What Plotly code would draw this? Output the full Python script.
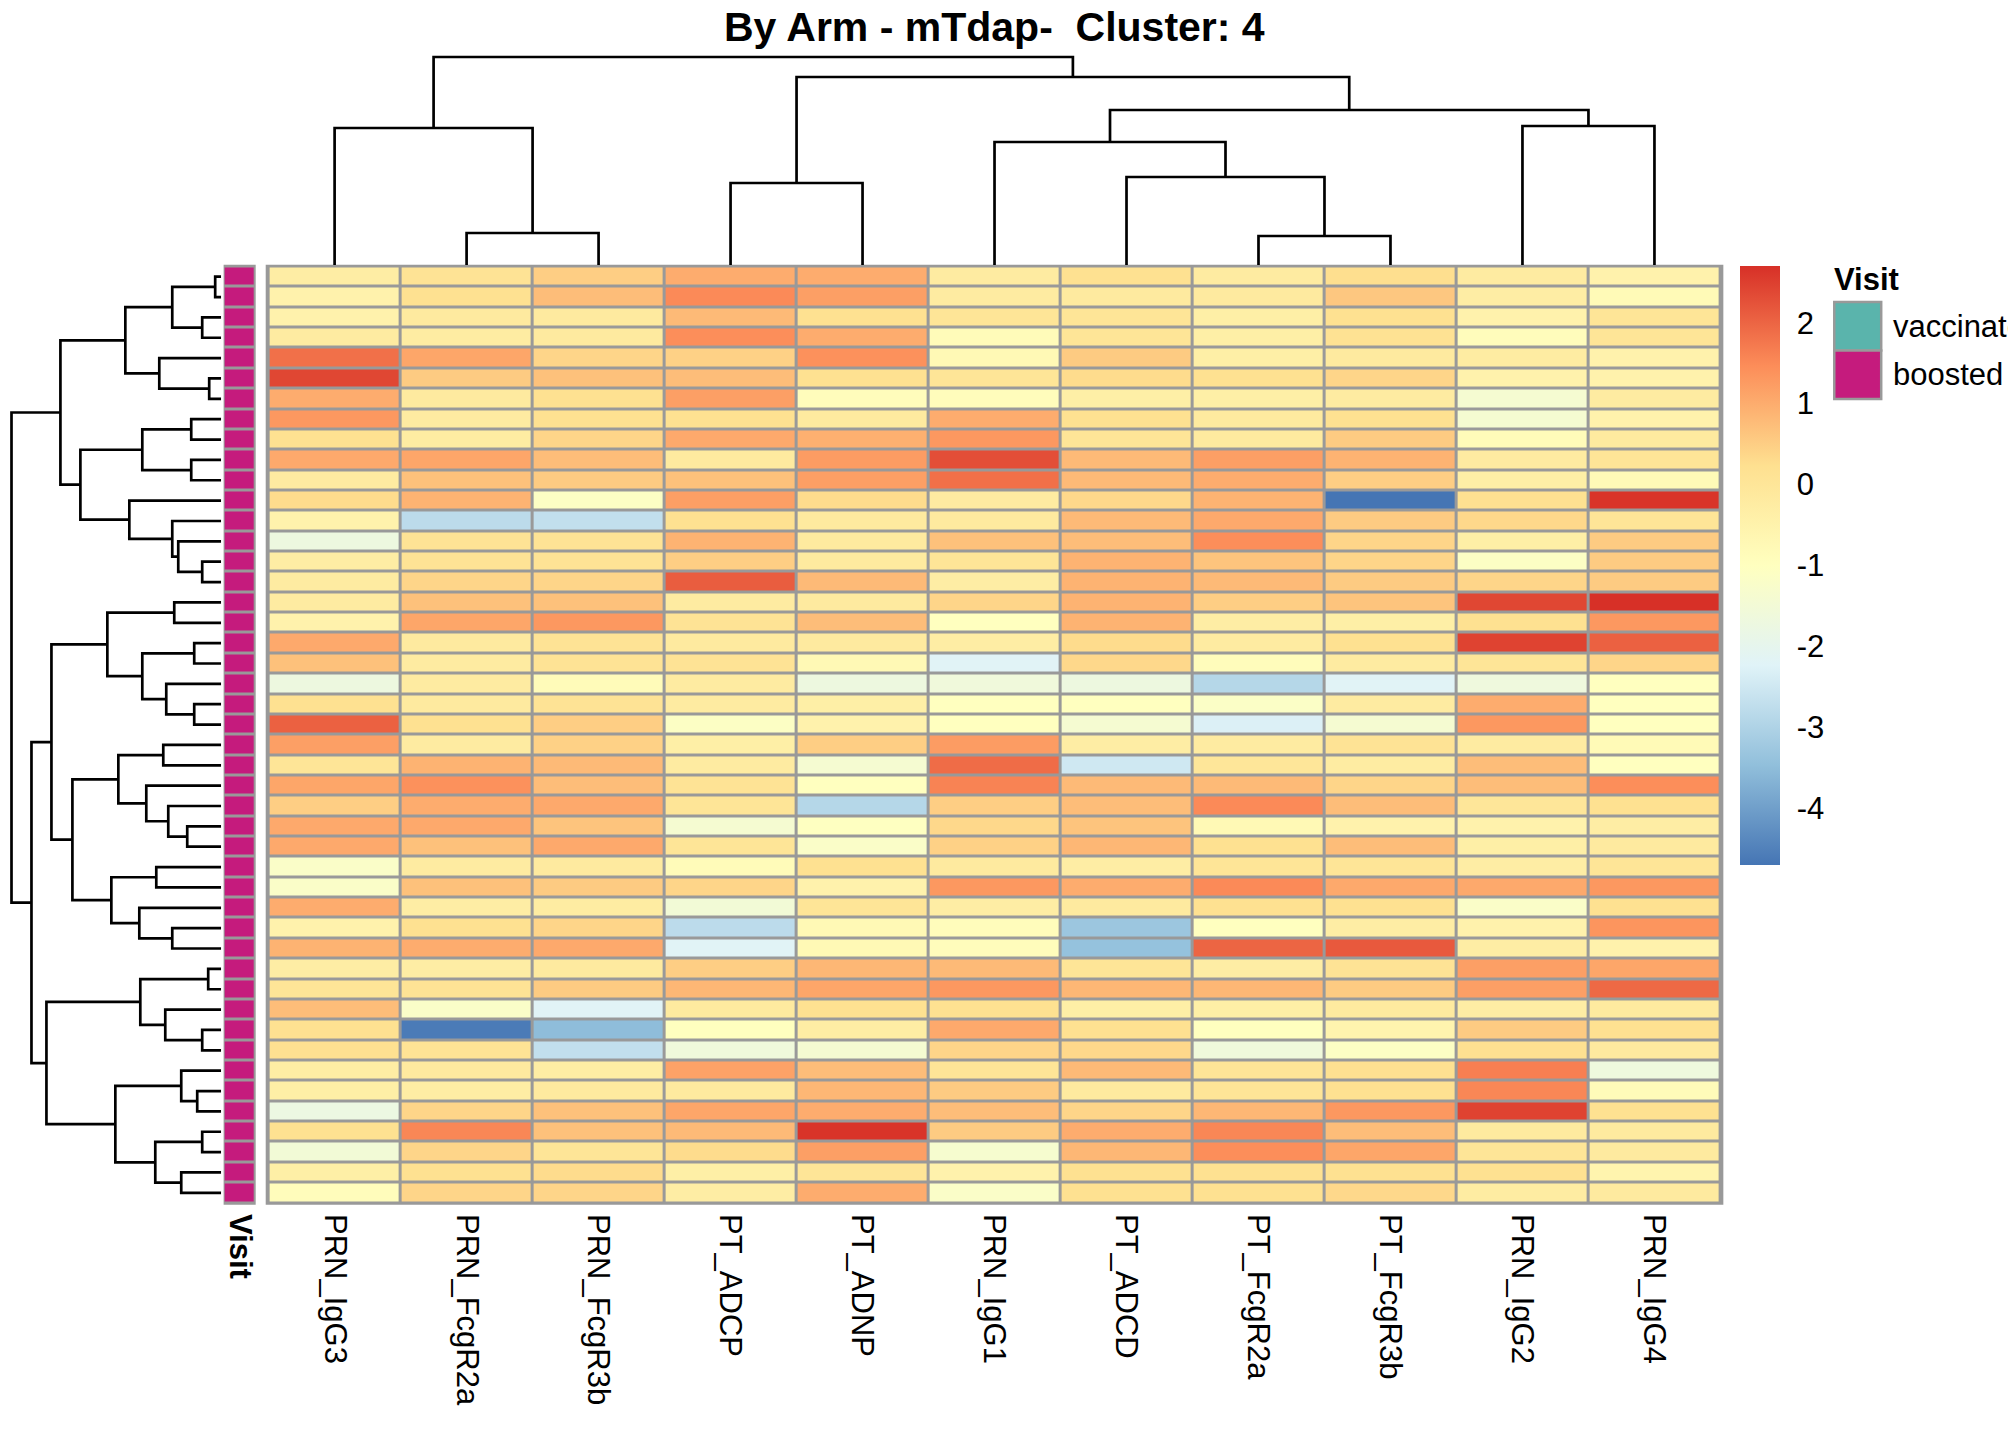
import plotly.graph_objects as go

# columns of the heatmap, in dendrogram order
columns = ["PRN_IgG3", "PRN_FcgR2a", "PRN_FcgR3b", "PT_ADCP", "PT_ADNP", "PRN_IgG1",
           "PT_ADCD", "PT_FcgR2a", "PT_FcgR3b", "PRN_IgG2", "PRN_IgG4"]

# scaled values per column, rows top to bottom (46 samples)
prn_igg3 = [-0.3, -0.5, -0.5, -0.2, 1.85, 2.4, 1.0, 1.3, 0.2, 1.05, -0.2, 0.3, -0.5, -1.7, -0.3, -0.2,
            -0.2, -0.5, 1.05, 0.7, -1.7, 0.2, 2.05, 1.2, 0.05, 1.1, 0.5, 1.05, 1.05, -1.2, -1.2, 1.0,
            -0.5, 0.9, -0.3, 0.05, 0.75, 0.2, 0.2, -0.3, -0.35, -1.75, 0.2, -1.5, -0.35, -0.9]
prn_fcgr2a = [0.1, 0.2, -0.15, -0.25, 1.1, 0.55, -0.15, -0.2, -0.25, 1.1, 0.7, 0.9, -2.8, 0.1, 0.1, 0.4,
              0.7, 1.1, -0.15, -0.2, -0.2, -0.15, 0.2, -0.2, 0.9, 1.4, 1.0, 1.05, 0.7, -0.2, 0.7, -0.3,
              0.2, 1.0, -0.3, 0.1, -1.2, -4.6, 0.1, -0.15, -0.3, 0.4, 1.55, 0.4, 0.2, 0.4]
prn_fcgr3b = [0.5, 0.75, -0.15, -0.15, 0.4, 0.7, 0.2, 0.2, 0.4, 0.75, 0.55, -1.1, -2.7, 0.1, 0.1, 0.4,
              0.7, 1.3, 0.1, 0.1, -0.85, 0.1, 0.5, 0.45, 0.8, 0.75, 1.05, 0.65, 1.05, -0.15, 0.55, -0.25,
              0.4, 1.05, -0.15, 0.55, -2.2, -3.5, -2.7, -0.3, -0.15, 0.7, 0.7, 0.05, 0.3, 0.4]
pt_adcp = [1.0, 1.5, 0.8, 1.45, 0.45, 0.75, 1.2, 0.2, 1.05, -0.15, 0.7, 1.2, 0.2, 0.9, 0.5, 2.1,
           -0.2, 0.1, -0.15, 0.1, -0.2, -0.2, -1.1, -0.35, -0.2, 0.1, 0.05, -1.4, 0.05, -0.85, 0.4, -1.5,
           -2.8, -2.2, 0.5, 0.85, -0.15, -1.0, -1.6, 1.15, -0.15, 1.1, 0.8, 0.3, -0.35, -0.3]
pt_adnp = [1.0, 1.2, 0.2, 1.0, 1.4, 0.2, -0.9, -0.15, 0.95, 1.25, 1.2, 0.3, -0.15, -0.15, -0.15, 0.8,
           -0.15, 0.75, -0.15, -0.75, -1.7, -0.35, -0.5, 0.5, -1.4, -1.0, -2.9, -1.05, -1.2, 0.2, -0.5, 0.05,
           -0.75, -0.75, 0.85, 1.1, 0.2, -0.3, -1.4, 0.75, 0.85, 1.0, 2.65, 1.2, 0.05, 1.0]
prn_igg1 = [-0.2, -0.2, 0.05, -0.85, -0.75, 0.05, -0.9, 1.0, 1.3, 2.3, 1.85, -0.2, -0.15, 0.7, 0.05, -0.3,
            0.4, -1.0, -0.3, -2.2, -1.6, -1.0, -1.0, 1.25, 1.9, 1.6, 0.5, 0.35, 0.45, -0.15, 1.3, -0.3,
            -0.9, -0.9, 0.8, 1.3, 0.2, 1.05, 0.4, 0.05, 0.55, 0.75, 0.55, -1.35, -0.5, -1.2]
pt_adcd = [0.2, -0.15, 0.05, 0.05, 0.55, 0.3, -0.35, 0.2, 0.05, 0.8, 0.8, 0.35, 0.8, 0.75, 0.9, 0.9,
           0.9, 0.9, 0.3, 0.35, -1.7, -1.0, -1.4, -0.3, -2.5, 0.8, 0.75, 0.65, 0.85, -0.3, 1.0, -0.15,
           -3.3, -3.4, 0.05, 0.85, -0.35, 0.2, 0.35, 0.8, -0.15, 0.4, 1.0, 0.85, 0.2, 0.2]
pt_fcgr2a = [-0.2, -0.15, -0.35, -0.35, -0.35, 0.2, -0.35, -0.15, -0.15, 1.2, 1.0, 0.9, 1.05, 1.45, 0.65, 0.8,
             0.5, -0.3, -0.2, -0.9, -2.9, -1.15, -2.3, -0.2, 0.0, 0.8, 1.5, -0.75, 0.2, 0.05, 1.5, 0.2,
             -1.0, 2.0, -0.3, 0.85, -0.35, -1.0, -1.6, 0.05, 0.05, 0.85, 1.55, 1.45, 0.2, 0.2]
pt_fcgr3b = [0.25, 0.6, 0.2, 0.15, -0.15, 0.4, -0.2, 0.2, 0.55, 0.9, 0.5, -4.7, 0.55, 0.4, 0.4, 0.55,
             0.65, -0.35, 0.2, -0.2, -2.2, -0.2, -1.4, 0.1, -0.25, 0.4, 0.75, -0.5, 0.75, 0.05, 1.05, 0.2,
             -0.3, 2.15, 0.1, 0.55, -0.15, -0.55, -1.1, 0.2, 0.2, 1.3, 0.75, 1.1, 0.2, 0.35]
prn_igg2 = [-0.2, -0.3, -0.5, -0.9, -0.25, -0.5, -1.4, -1.4, -0.85, -0.2, -0.35, 0.2, 0.35, -0.35, -1.1, 0.4,
            2.4, 0.2, 2.45, 0.05, -1.65, 1.0, 1.3, -0.2, 0.75, 0.75, 0.0, -0.5, -0.35, -0.3, 1.05, -1.2,
            -0.5, -0.3, 1.2, 1.2, -0.3, 0.55, 0.2, 1.65, 1.55, 2.45, -0.15, 0.05, 0.2, -0.25]
prn_igg4 = [-0.5, -0.8, 0.05, 0.05, -0.5, -0.5, -0.2, -0.5, -0.15, 0.05, -0.8, 2.65, 0.05, 0.55, 0.55, 0.55,
            2.7, 1.3, 2.05, 0.4, -1.0, -1.0, -1.0, -0.8, -1.0, 1.45, 0.2, -0.3, -0.15, 0.05, 1.3, 0.2,
            1.35, -0.5, 1.1, 1.95, -0.15, 0.2, -0.15, -1.65, -0.85, 0.2, -0.15, -0.15, -0.55, -0.15]

# row annotation
visit_levels = ["vaccinated", "boosted"]
visit = ["boosted", "boosted", "boosted", "boosted", "boosted", "boosted", "boosted", "boosted",
         "boosted", "boosted", "boosted", "boosted", "boosted", "boosted", "boosted", "boosted",
         "boosted", "boosted", "boosted", "boosted", "boosted", "boosted", "boosted", "boosted",
         "boosted", "boosted", "boosted", "boosted", "boosted", "boosted", "boosted", "boosted",
         "boosted", "boosted", "boosted", "boosted", "boosted", "boosted", "boosted", "boosted",
         "boosted", "boosted", "boosted", "boosted", "boosted", "boosted"]

# hclust merges (a, b, height); ids >= n are earlier merges (n + index)
row_merges = [(0, 1, 0.6), (2, 3, 1.9), (46, 47, 4.9), (5, 6, 1.2), (4, 49, 6.2), (48, 50, 9.6),
              (7, 8, 3.0), (9, 10, 3.0), (52, 53, 7.9), (14, 15, 1.9), (13, 55, 4.3), (12, 56, 4.9),
              (11, 57, 9.2), (54, 58, 14.1), (51, 59, 16.1), (16, 17, 4.7), (18, 19, 2.7), (21, 22, 2.7),
              (20, 63, 5.5), (62, 64, 7.9), (61, 65, 11.4), (23, 24, 5.8), (27, 28, 3.4), (26, 68, 5.3),
              (25, 69, 7.5), (67, 70, 10.3), (29, 30, 6.5), (32, 33, 4.9), (31, 73, 8.2), (72, 74, 11.0),
              (71, 75, 14.9), (66, 76, 17.0), (34, 35, 1.3), (37, 38, 1.9), (36, 79, 5.6), (78, 80, 8.1),
              (40, 41, 2.4), (39, 82, 4.0), (42, 43, 1.9), (44, 45, 4.0), (84, 85, 6.6), (83, 86, 10.6),
              (81, 87, 17.5), (77, 88, 19.0), (60, 89, 21.0)]
col_merges = [(1, 2, 3.2), (0, 11, 13.7), (3, 4, 8.2), (7, 8, 2.9), (6, 14, 8.8), (5, 15, 12.3),
              (9, 10, 13.9), (16, 17, 15.5), (13, 18, 18.8), (12, 19, 20.8)]

heat_colors = ["#4575B4", "#91BFDB", "#E0F3F8", "#FFFFBF", "#FEE090", "#FC8D59", "#D73027"]
visit_colors = {"vaccinated": "#5AB4AC", "boosted": "#C51B7D"}
zmin, zmax = -4.7, 2.7

FONT = "Liberation Sans, Arial, sans-serif"
W, H, OFF = 2008, 1424, 8


def px(x):
    return (x - OFF) / W


def py(y):
    return 1 - (y - OFF) / H


def dendro_lines(merges, n):
    pos = {i: float(i) for i in range(n)}
    hgt = {i: 0.0 for i in range(n)}
    p_list, h_list = [], []
    for k, (a, b, h) in enumerate(merges):
        p_list += [pos[a], pos[a], pos[b], pos[b], None]
        h_list += [hgt[a], h, h, hgt[b], None]
        pos[n + k] = (pos[a] + pos[b]) / 2
        hgt[n + k] = h
    return p_list, h_list


series = [prn_igg3, prn_fcgr2a, prn_fcgr3b, pt_adcp, pt_adnp, prn_igg1,
          pt_adcd, pt_fcgr2a, pt_fcgr3b, prn_igg2, prn_igg4]
n_rows = len(prn_igg3)
z = [[s[r] for s in series] for r in range(n_rows)]

scale = [[i / (len(heat_colors) - 1), c] for i, c in enumerate(heat_colors)]
cb_ticks = [-4, -3, -2, -1, 0, 1, 2]

fig = go.Figure()

fig.add_trace(go.Heatmap(
    z=z, x=list(range(len(columns))), y=list(range(n_rows)),
    colorscale=scale, zmin=zmin, zmax=zmax, xgap=3, ygap=3,
    xaxis="x", yaxis="y", hoverinfo="skip",
    colorbar=dict(x=px(1742), xanchor="left", xpad=0, ypad=0,
                  y=py(266), yanchor="top", len=599, lenmode="pixels",
                  thickness=40, thicknessmode="pixels", outlinewidth=0,
                  tickvals=cb_ticks, ticktext=[str(t) for t in cb_ticks],
                  ticks="outside", ticklen=11, tickcolor="rgba(0,0,0,0)",
                  tickfont=dict(family=FONT, size=31, color="black")),
))

v_codes = [[visit_levels.index(v)] for v in visit]
fig.add_trace(go.Heatmap(
    z=v_codes, x=[0], y=list(range(n_rows)),
    colorscale=[[0, visit_colors["vaccinated"]], [0.5, visit_colors["vaccinated"]],
                [0.5, visit_colors["boosted"]], [1, visit_colors["boosted"]]],
    zmin=0, zmax=1, showscale=False, xgap=3, ygap=3,
    xaxis="x2", yaxis="y", hoverinfo="skip",
))

rp, rh = dendro_lines(row_merges, n_rows)
fig.add_trace(go.Scatter(x=rh, y=rp, mode="lines", line=dict(color="black", width=2.7),
                         xaxis="x3", yaxis="y", hoverinfo="skip", showlegend=False))

cp, ch = dendro_lines(col_merges, len(columns))
fig.add_trace(go.Scatter(x=cp, y=ch, mode="lines", line=dict(color="black", width=2.7),
                         xaxis="x", yaxis="y2", hoverinfo="skip", showlegend=False))

hidden = dict(visible=False, showgrid=False, zeroline=False)

fig.update_layout(
    width=W, height=H, margin=dict(l=0, r=0, t=0, b=0),
    paper_bgcolor="white", plot_bgcolor="rgba(0,0,0,0)", showlegend=False,
    font=dict(family=FONT, color="black"),
    xaxis=dict(domain=[px(268), px(1722)], range=[-0.5, len(columns) - 0.5], anchor="y",
               tickvals=list(range(len(columns))), ticktext=columns, tickangle=90,
               ticks="", ticklabelstandoff=10, showgrid=False, zeroline=False, showline=False,
               tickfont=dict(family=FONT, size=31, color="black")),
    yaxis=dict(domain=[py(1203), py(266.5)], range=[n_rows - 0.5, -0.5], anchor="x",
               showticklabels=False, ticks="", showgrid=False, zeroline=False),
    xaxis2=dict(domain=[px(223), px(255)], range=[-0.5, 0.5], anchor="y",
                tickvals=[0], ticktext=["<b>Visit</b>"], tickangle=90, ticks="",
                ticklabelstandoff=10, showgrid=False, zeroline=False,
                tickfont=dict(family=FONT, size=31, color="black")),
    xaxis3=dict(domain=[0, px(220.5)], range=[21.25, 0], anchor="y", **hidden),
    yaxis2=dict(domain=[py(265), py(53.5)], range=[0, 21.15], anchor="x", **hidden),
)

# grey cell borders behind the bricks
for ref in ["x", "x2"]:
    fig.add_shape(type="rect", xref=f"{ref} domain", yref="y domain",
                  x0=-0.002, x1=1.002, y0=-0.002, y1=1.002,
                  fillcolor="#999999", line_width=0, layer="below")

fig.add_annotation(text="<b>By Arm - mTdap-&nbsp; Cluster: 4</b>", x=px(995), y=py(27),
                   xref="paper", yref="paper", xanchor="center", yanchor="middle",
                   showarrow=False, font=dict(family=FONT, size=41, color="black"))

# Visit legend
fig.add_annotation(text="<b>Visit</b>", x=px(1834), y=py(279), xref="paper", yref="paper",
                   xanchor="left", yanchor="middle", showarrow=False,
                   font=dict(family=FONT, size=31, color="black"))
box_top, box_h = 302, 48.5
for i, lvl in enumerate(visit_levels):
    y0 = box_top + i * box_h
    fig.add_shape(type="rect", xref="paper", yref="paper",
                  x0=px(1836), x1=px(1883), y0=py(y0 + box_h), y1=py(y0),
                  fillcolor=visit_colors[lvl], line=dict(color="#999999", width=2.5))
    fig.add_annotation(text=lvl, x=px(1893), y=py(y0 + box_h / 2), xref="paper", yref="paper",
                       xanchor="left", yanchor="middle", showarrow=False,
                       font=dict(family=FONT, size=31, color="black"))

fig.write_html("out.html")
